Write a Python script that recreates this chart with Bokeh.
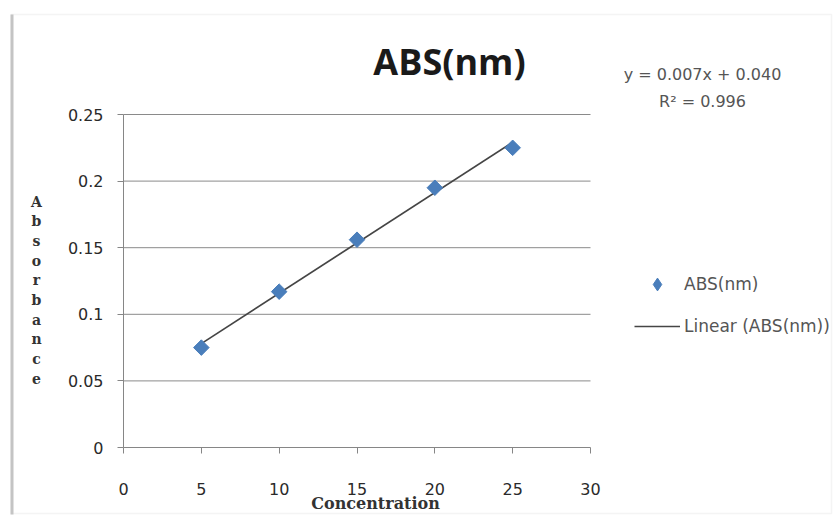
import numpy as np
from bokeh.plotting import figure
from bokeh.models import Range1d, Label, Legend, LegendItem, FixedTicker, BoxAnnotation
from bokeh.embed import file_html
from bokeh.resources import INLINE

# ---- data ----
concentration = [5, 10, 15, 20, 25]
absorbance = [0.075, 0.117, 0.156, 0.195, 0.225]
x_ticks = [0, 5, 10, 15, 20, 25, 30]
y_ticks = [0, 0.05, 0.1, 0.15, 0.2, 0.25]
y_tick_labels = ["0", "0.05", "0.1", "0.15", "0.2", "0.25"]
title_text = "ABS(nm)"
series_name = "ABS(nm)"
trend_name = "Linear (ABS(nm))"
equation_lines = ["y = 0.007x + 0.040", "R² = 0.996"]
x_title = "Concentration"
y_title = "Absorbance"

# linear trendline from the data
slope, intercept = np.polyfit(concentration, absorbance, 1)
trend_x = [min(concentration), max(concentration)]
trend_y = [slope * v + intercept for v in trend_x]

W, H = 833, 516
# pixel layout of the plotting area inside the canvas
X0_PX, X1_PX = 123, 590      # x = x_ticks[0], x_ticks[-1]
Y0_PX, Y1_PX = 447, 114      # y = y_ticks[0], y_ticks[-1]
sx = (X1_PX - X0_PX) / (x_ticks[-1] - x_ticks[0])
sy = (Y0_PX - Y1_PX) / (y_ticks[-1] - y_ticks[0])


def px_x(px):
    return x_ticks[0] + (px - X0_PX) / sx


def px_y(py):
    return y_ticks[0] + (Y0_PX - py) / sy


FONT = "Open Sans"
SANS = "DejaVu Sans"
SERIF = "DejaVu Serif"
BLUE = "#4A7EBB"

p = figure(width=W, height=H, output_backend="svg", toolbar_location=None,
           x_range=Range1d(px_x(0), px_x(W)), y_range=Range1d(px_y(H), px_y(0)),
           min_border=0)
p.title.visible = False
p.outline_line_color = None
p.background_fill_color = "white"
p.border_fill_color = "white"

# chart border (shadowed frame)
p.add_layout(BoxAnnotation(left=px_x(11), right=px_x(831), top=px_y(14), bottom=px_y(513),
                           fill_color=None, line_color="#dcdcdc", line_width=1.5))
p.add_layout(BoxAnnotation(left=px_x(10), right=px_x(13), top=px_y(14), bottom=px_y(514),
                           fill_color="#c4c4c4", fill_alpha=1, line_color=None))

# axes anchored at the data origin
xa, ya = p.xaxis[0], p.yaxis[0]
xa.fixed_location = y_ticks[0]
ya.fixed_location = x_ticks[0]
xa.bounds = (x_ticks[0], x_ticks[-1])
ya.bounds = (y_ticks[0], y_ticks[-1])
for ax in (xa, ya):
    ax.axis_line_color = "#868686"
    ax.major_tick_line_color = "#868686"
    ax.major_tick_out = 6
    ax.major_tick_in = 0
    ax.minor_tick_line_color = None
    ax.major_label_text_font = SANS
    ax.major_label_text_font_size = "16px"
    ax.major_label_text_color = "#2a2a2a"
xa.ticker = FixedTicker(ticks=x_ticks)
ya.ticker = FixedTicker(ticks=y_ticks)
ya.major_label_overrides = {t: l for t, l in zip(y_ticks, y_tick_labels)}
xa.major_label_standoff = 29
ya.major_label_standoff = 14

p.xgrid.visible = False
p.ygrid.visible = False
# horizontal gridlines across the plotting area
p.segment(x0=[x_ticks[0]] * (len(y_ticks) - 1), x1=[x_ticks[-1]] * (len(y_ticks) - 1),
          y0=y_ticks[1:], y1=y_ticks[1:], line_color="#8a8a8a", line_width=1)

# trendline and points
r_line = p.line(trend_x, trend_y, line_color="#454545", line_width=1.7)
r_pts = p.scatter(concentration, absorbance, marker="square", angle=np.pi / 4,
                  size=11, fill_color=BLUE, line_color=BLUE)
# legend swatch (diamond), hidden in the plot
r_key = p.scatter(concentration, absorbance, marker="diamond", size=17,
                  fill_color=BLUE, line_color=BLUE, visible=False)

legend = Legend(items=[LegendItem(label=series_name, renderers=[r_key]),
                       LegendItem(label=trend_name, renderers=[r_line])],
                location=(634, H - 342), orientation="vertical",
                glyph_width=46, glyph_height=32, label_height=20,
                spacing=10, padding=0, margin=0, label_standoff=4,
                border_line_color=None, background_fill_alpha=0,
                inactive_fill_alpha=0,
                label_text_font=SANS, label_text_font_size="17px",
                label_text_color="#555555")
p.add_layout(legend)

# title
p.add_layout(Label(x=px_x(449), y=px_y(61), text=title_text, text_font=FONT,
                   text_font_size="36px", text_font_style="bold",
                   text_align="center", text_baseline="middle", text_color="#1a1a1a"))

# equation
p.add_layout(Label(x=px_x(702), y=px_y(74), text=equation_lines[0], text_font=SANS,
                   text_font_size="16px", text_align="center", text_baseline="middle",
                   text_color="#555555"))
p.add_layout(Label(x=px_x(702), y=px_y(101), text=equation_lines[1], text_font=SANS,
                   text_font_size="16px", text_align="center", text_baseline="middle",
                   text_color="#555555"))

# axis titles
p.add_layout(Label(x=px_x(375), y=px_y(503), text=x_title, text_font=SERIF,
                   text_font_size="16px", text_font_style="bold",
                   text_align="center", text_baseline="middle", text_color="#333333"))
p.add_layout(Label(x=px_x(36), y=px_y(193), text="\n".join(y_title), text_font=SERIF,
                   text_font_size="14px", text_font_style="bold",
                   text_line_height=1.23,
                   text_align="center", text_baseline="top", text_color="#333333"))

open("out.html", "w").write(file_html(p, INLINE))
